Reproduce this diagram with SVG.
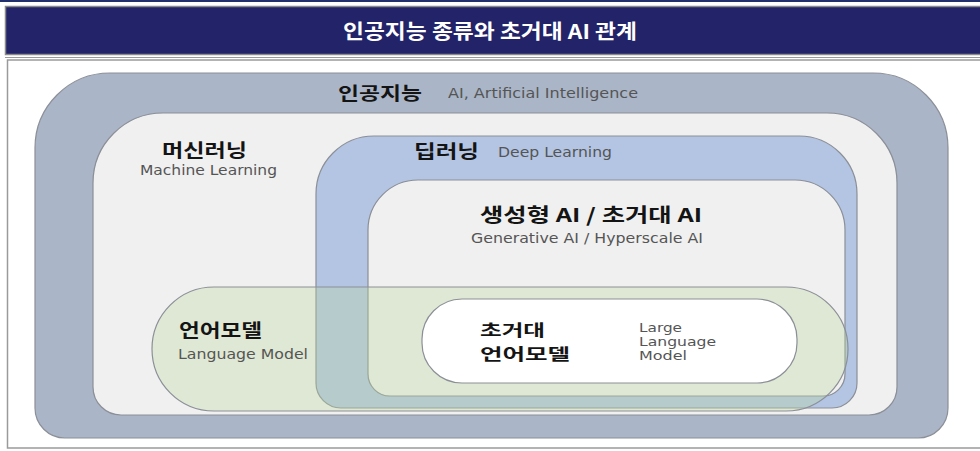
<svg xmlns="http://www.w3.org/2000/svg" width="980" height="451" viewBox="0 0 980 451">
<style>
.ko{font-family:"Noto Sans CJK KR","Noto Sans",sans-serif;font-weight:700;fill:#141414}
.en{font-family:"DejaVu Sans","Liberation Sans",sans-serif;font-weight:400;fill:#555}
.shape{stroke:#8b8f97;stroke-width:1.2}
</style>
<rect x="0" y="0" width="980" height="451" fill="#ffffff"/>
<g id="header">
<rect x="0" y="0" width="980" height="2" fill="#23306e"/>
<rect x="5.5" y="6.5" width="980" height="48" fill="#222368" stroke="#8a8a8a" stroke-width="1.5"/>
<text x="490" y="39" text-anchor="middle" font-family="Noto Sans CJK KR, sans-serif" font-weight="700" font-size="20" fill="#ffffff" textLength="294" lengthAdjust="spacingAndGlyphs">인공지능 종류와 초거대 AI 관계</text>
</g>
<rect x="7.5" y="60" width="980" height="388" fill="#ffffff" stroke="#9a9a9a" stroke-width="1.5"/>
<line x1="5" y1="57.5" x2="980" y2="57.5" stroke="#9a9a9a" stroke-width="1"/>
<g id="ai">
<path class="shape" fill="#aab5c7" d="M110,73 H873 A75,75 0 0 1 948,148 V408 A30,30 0 0 1 918,438 H65 A30,30 0 0 1 35,408 V148 A75,75 0 0 1 110,73 Z"/>
<text class="ko" x="338" y="100" font-size="18" textLength="84" lengthAdjust="spacingAndGlyphs">인공지능</text>
<text class="en" x="448" y="98" font-size="13.5" textLength="190" lengthAdjust="spacingAndGlyphs">AI, Artificial Intelligence</text>
</g>
<g id="ml">
<path class="shape" fill="#f0f0f0" d="M163,113 H827 A70,70 0 0 1 897,183 V387 A28,28 0 0 1 869,415 H121 A28,28 0 0 1 93,387 V183 A70,70 0 0 1 163,113 Z"/>
<text class="ko" x="162" y="157" font-size="18" textLength="85" lengthAdjust="spacingAndGlyphs">머신러닝</text>
<text class="en" x="140" y="175" font-size="14" textLength="137" lengthAdjust="spacingAndGlyphs">Machine Learning</text>
</g>
<g id="dl">
<path class="shape" fill="#b3c5e3" d="M374,136 H799 A58,58 0 0 1 857,194 V383 A25,25 0 0 1 832,408 H341 A25,25 0 0 1 316,383 V194 A58,58 0 0 1 374,136 Z"/>
<text class="ko" x="414" y="158" font-size="18" textLength="65" lengthAdjust="spacingAndGlyphs">딥러닝</text>
<text class="en" x="498" y="157" font-size="13.5" textLength="114" lengthAdjust="spacingAndGlyphs">Deep Learning</text>
</g>
<g id="genai">
<path class="shape" fill="#f0f0f0" d="M418,180 H795 A50,50 0 0 1 845,230 V374 A22,22 0 0 1 823,396 H390 A22,22 0 0 1 368,374 V230 A50,50 0 0 1 418,180 Z"/>
<text class="ko" x="591" y="222" font-size="19" text-anchor="middle" textLength="222" lengthAdjust="spacingAndGlyphs">생성형 AI / 초거대 AI</text>
<text class="en" x="587" y="243" font-size="13.5" text-anchor="middle" textLength="232" lengthAdjust="spacingAndGlyphs">Generative AI / Hyperscale AI</text>
</g>
<g id="lm">
<rect class="shape" x="152" y="287" width="696" height="124" rx="62" ry="62" fill="#bcd89b" fill-opacity="0.33"/>
<text class="ko" x="179" y="337" font-size="18" textLength="83" lengthAdjust="spacingAndGlyphs">언어모델</text>
<text class="en" x="178" y="359" font-size="13.5" textLength="130" lengthAdjust="spacingAndGlyphs">Language Model</text>
</g>
<g id="llm">
<rect class="shape" x="422" y="299" width="375" height="84" rx="40" ry="40" fill="#ffffff"/>
<text class="ko" font-size="16"><tspan x="480" y="336" textLength="65" lengthAdjust="spacingAndGlyphs">초거대</tspan><tspan x="480" y="360" textLength="90" lengthAdjust="spacingAndGlyphs">언어모델</tspan></text>
<text class="en" font-size="12.5"><tspan x="639" y="332" textLength="43" lengthAdjust="spacingAndGlyphs">Large</tspan><tspan x="639" y="346" textLength="77" lengthAdjust="spacingAndGlyphs">Language</tspan><tspan x="639" y="360" textLength="48" lengthAdjust="spacingAndGlyphs">Model</tspan></text>
</g>
<g id="connectors"></g>
</svg>
